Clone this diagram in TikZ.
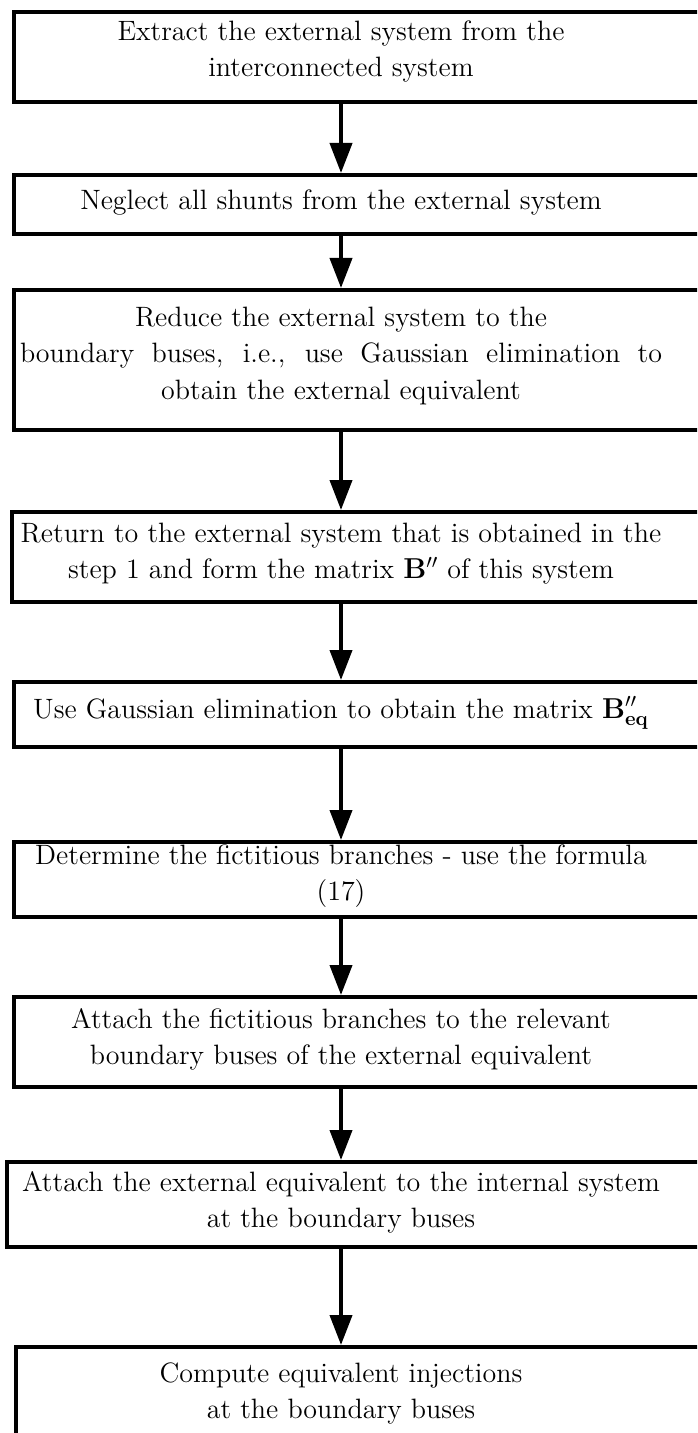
\documentclass[tikz,border=0pt]{standalone}
\usetikzlibrary{arrows.meta}
\begin{document}
\begin{tikzpicture}[x=0.5pt,y=-0.5pt,
	stepbox/.style={draw,line width=2.2pt,minimum width=355pt,inner sep=0pt,anchor=north west},
	steptext/.style={align=center,inner sep=0pt,font=\fontsize{14}{18}\selectfont},
	flow/.style={line width=2pt,-{Triangle[width=11pt,length=15pt]}}]
	\useasboundingbox (0,0) rectangle (697,1433);
	\clip (0,0) rectangle (697,1433);
	\node[stepbox,minimum height=45pt](b1) at (12,10){};
	\node[stepbox,minimum height=29.5pt](b2) at (12,173){};
	\node[stepbox,minimum height=70pt](b3) at (12,288){};
	\node[stepbox,minimum height=45pt](b4) at (10,510){};
	\node[stepbox,minimum height=32.5pt](b5) at (12,680){};
	\node[stepbox,minimum height=37.5pt](b6) at (12,840){};
	\node[stepbox,minimum height=45pt](b7) at (12,995){};
	\node[stepbox,minimum height=42.5pt](b8) at (5,1160){};
	\node[stepbox,minimum height=60pt](b9) at (14,1345){};
	\node[steptext](t1) at (341,52){Extract the external system from the\\ interconnected system};
	\node[steptext](t2) at (341,203){Neglect all shunts from the external system};
	\node[steptext](t3) at (341,356){Reduce the external system to the\\ \hbox to 321pt{boundary buses, i.e., use Gaussian elimination to}\\ obtain the external equivalent};
	\node[steptext](t4) at (341,554){Return to the external system that is obtained in the\\ step 1 and form the matrix $\mathbf{B}''$ of this system};
	\node[steptext](t5) at (341,713){Use Gaussian elimination to obtain the matrix $\mathbf{B}''_{\mathbf{eq}}$};
	\node[steptext](t6) at (341,876){Determine the fictitious branches - use the formula\\ (17)};
	\node[steptext](t7) at (341,1039){Attach the fictitious branches to the relevant\\ boundary buses of the external equivalent};
	\node[steptext](t8) at (341,1202){Attach the external equivalent to the internal system\\ at the boundary buses};
	\node[steptext](t9) at (341,1393){Compute equivalent injections\\ at the boundary buses};
	\draw[flow] (b1.south -| t1) -- (b2.north -| t1);
	\draw[flow] (b2.south -| t1) -- (b3.north -| t1);
	\draw[flow] (b3.south -| t1) -- (b4.north -| t1);
	\draw[flow] (b4.south -| t1) -- (b5.north -| t1);
	\draw[flow] (b5.south -| t1) -- (b6.north -| t1);
	\draw[flow] (b6.south -| t1) -- (b7.north -| t1);
	\draw[flow] (b7.south -| t1) -- (b8.north -| t1);
	\draw[flow] (b8.south -| t1) -- (b9.north -| t1);
\end{tikzpicture}
\end{document}
